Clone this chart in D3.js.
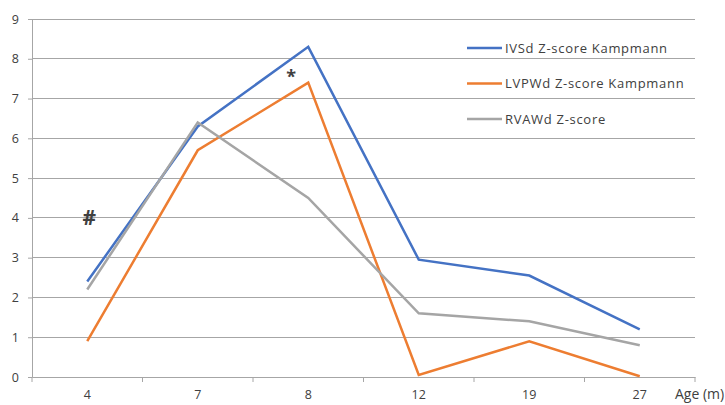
<!DOCTYPE html>
<html><head><meta charset="utf-8">
<script src="https://cdn.jsdelivr.net/npm/d3@7"></script>
<style>body{margin:0;background:#fff}svg{display:block}text{font-family:"Open Sans",sans-serif;fill:#404040}</style>
</head><body><svg id="c" width="725" height="405"></svg>
<script>
const categories = ["4","7","8","12","19","27"];
const ivsd = [2.4, 6.3, 8.3, 2.95, 2.55, 1.2];
const lvpwd = [0.9, 5.7, 7.4, 0.05, 0.9, 0.02];
const rvawd = [2.2, 6.4, 4.5, 1.6, 1.4, 0.8];
const seriesNames = ["IVSd Z-score Kampmann","LVPWd Z-score Kampmann","RVAWd Z-score"];
const yTicks = [0,1,2,3,4,5,6,7,8,9];
const annotations = [{cat:"4", v:4, t:"#"}, {cat:"8", v:7.7, t:"*"}];

const colors = ["#4472C4","#ED7D31","#A5A5A5"];
const svg = d3.select("#c");
const L=32, R=695, T=19, B=377;
const x = d3.scaleBand().domain(categories).range([L,R]);
const y = d3.scaleLinear().domain([0,9]).range([B,T]);

// gridlines
svg.append("g").selectAll("line").data(yTicks.slice(1)).join("line")
  .attr("x1",L).attr("x2",R).attr("y1",d=>y(d)).attr("y2",d=>y(d))
  .attr("stroke","#a6a6a6").attr("stroke-width",1).attr("shape-rendering","crispEdges");

// y axis
const ya = svg.append("g").attr("transform",`translate(${L},0)`)
  .call(d3.axisLeft(y).tickValues(yTicks).tickSize(4).tickPadding(9).tickFormat(d3.format("d")));
ya.select(".domain").attr("stroke","#a6a6a6");
ya.selectAll("line").attr("stroke","#a6a6a6");
ya.selectAll("text").style("font-size","12.5px").attr("fill","#404040");

// x axis
const xa = svg.append("g").attr("transform",`translate(0,${B})`)
  .call(d3.axisBottom(x).tickSize(0).tickPadding(13));
xa.select(".domain").attr("stroke","#a6a6a6");
xa.selectAll("text").style("font-size","12.5px").attr("fill","#404040");
const tickPos = categories.map(c=>x(c)).concat([R]);
xa.selectAll("line.tk").data(tickPos).join("line").attr("class","tk")
  .attr("x1",d=>d).attr("x2",d=>d).attr("y1",0).attr("y2",5).attr("stroke","#a6a6a6");
svg.append("text").attr("x",675).attr("y",399).style("font-size","14px").text("Age (m)");

// lines
const allSeries = [ivsd, lvpwd, rvawd];
const line = d3.line().x((d,i)=>x(categories[i])+x.bandwidth()/2).y(d=>y(d));
svg.append("g").selectAll("path").data(allSeries).join("path")
  .attr("d",line).attr("fill","none").attr("stroke",(d,i)=>colors[i])
  .attr("stroke-width",2.5).attr("stroke-linejoin","miter");

// annotations
svg.selectAll("text.ann").data(annotations).join("text").attr("class","ann")
  .attr("x",d=>x(d.cat)+x.bandwidth()/2+(d.t==="*"?-17:2)).attr("y",d=>y(d.v)+(d.t==="*"?12:7))
  .attr("text-anchor","middle").style("font-size",d=>d.t==="#"?"21px":"18px")
  .style("font-weight","bold").attr("fill","#000").text(d=>d.t);

// legend
const lg = svg.append("g");
seriesNames.forEach((n,i)=>{
  const yy = 48 + i*35.5;
  lg.append("line").attr("x1",467).attr("x2",502).attr("y1",yy).attr("y2",yy)
    .attr("stroke",colors[i]).attr("stroke-width",2.5);
  lg.append("text").attr("x",505).attr("y",yy+4.5).style("font-size","13px")
    .style("letter-spacing","0.7px").text(n);
});
</script></body></html>
